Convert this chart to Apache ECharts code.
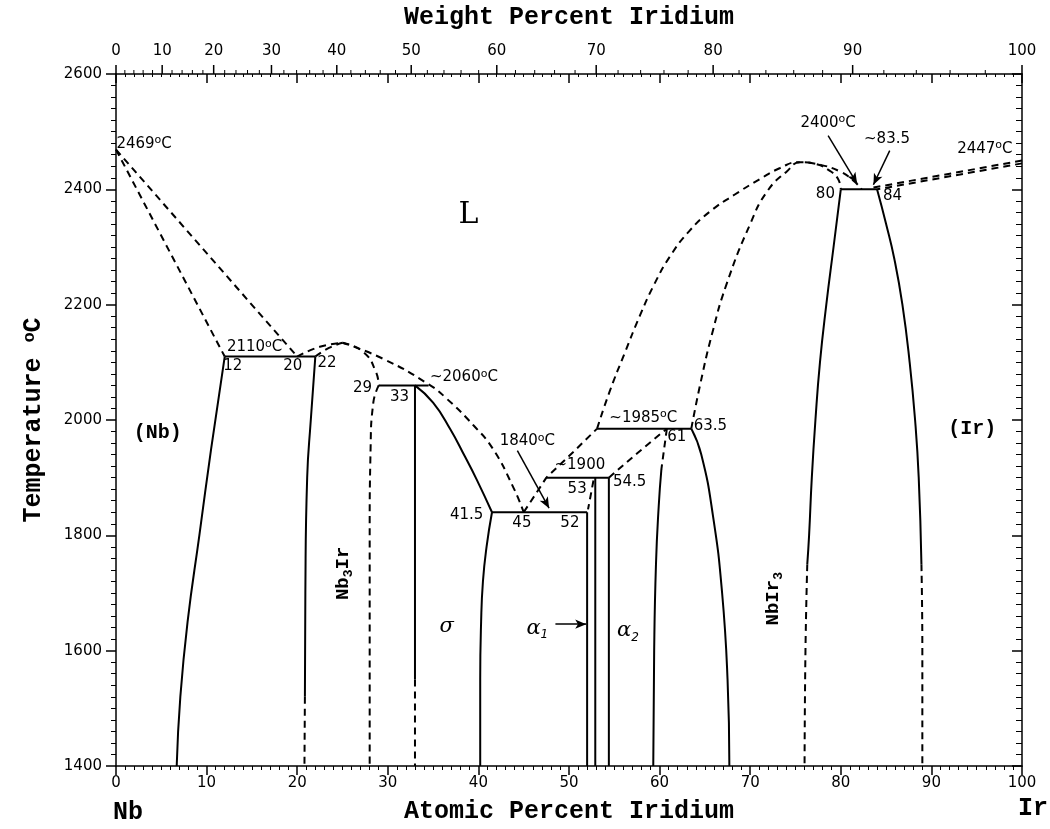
<!DOCTYPE html>
<html>
<head>
<meta charset="utf-8">
<script src="https://cdn.jsdelivr.net/npm/echarts@6/dist/echarts.min.js"></script>
<style>html,body{margin:0;background:#fff}#chart{width:1050px;height:829px}</style>
</head>
<body>
<div id="chart"></div>
<script>
// --- axes ---
const tempMin = 1400, tempMax = 2600
const wtMajor = [0, 10, 20, 30, 40, 50, 60, 70, 80, 90, 100]
const M_IR = 192.22, M_NB = 92.906

// --- phase boundaries: [at.% Ir, T degC] ---
const nbLiquidus = [[0, 2469], [20, 2110]]
const nbSolidus = [[0, 2469], [12, 2110]]
const nbSolvus = [[12, 2110], [10.5, 1950], [9.2, 1800], [7.9, 1650], [7.1, 1520], [6.7, 1400]]
const eut2110 = [[12, 2110], [22, 2110]]
const nb3IrLiqLeft = [[20, 2110], [22.5, 2127], [25, 2134]]
const nb3IrSolLeft = [[22, 2110], [23.5, 2125], [25, 2134]]
const nb3IrLeftSolid = [[22, 2110], [21.5, 2000], [21.1, 1900], [20.9, 1700], [20.85, 1520]]
const nb3IrLeftDash = [[20.85, 1520], [20.8, 1400]]
const midLiquidus = [[25, 2134], [29.5, 2106], [34.5, 2062], [36.5, 2037], [39.5, 1990], [41.6, 1950], [43.8, 1885], [45, 1840]]
const nb3IrSolRight = [[25, 2134], [27.3, 2118], [28.7, 2083], [29, 2060]]
const nb3IrRight = [[29, 2060], [28.4, 2030], [28.1, 1950], [28, 1800], [28, 1400]]
const peri2060 = [[29, 2060], [34.5, 2060]]
const sigmaLeftSolid = [[33, 2060], [33, 1550]]
const sigmaLeftDash = [[33, 1550], [33, 1400]]
const sigmaTop = [[33, 2060], [35, 2030], [36.9, 1984], [38.5, 1937], [39.8, 1897], [41.5, 1840]]
const sigmaRight = [[41.5, 1840], [40.9, 1780], [40.5, 1720], [40.3, 1650], [40.2, 1550], [40.2, 1400]]
const eut1840 = [[41.5, 1840], [52, 1840]]
const liqLow = [[45, 1840], [47.5, 1900], [50.5, 1945], [53.1, 1985]]
const alpha1Left = [[52, 1840], [52, 1400]]
const alpha1Top = [[52.7, 1895], [52.1, 1845]]
const line53 = [[52.9, 1900], [52.9, 1400]]
const line545 = [[54.4, 1900], [54.4, 1400]]
const peri1900 = [[47.5, 1900], [54.4, 1900]]
const peri1985 = [[53.1, 1985], [63.5, 1985]]
const dash1900to1985 = [[54.4, 1900], [57.5, 1942], [60.8, 1985]]
const phase61Dash = [[60.8, 1985], [60.2, 1915]]
const phase61Solid = [[60.2, 1915], [59.9, 1850], [59.6, 1750], [59.4, 1600], [59.3, 1400]]
const phase635 = [[63.5, 1985], [64.6, 1940], [65.9, 1833], [66.9, 1700], [67.5, 1550], [67.7, 1400]]
const bigLiquidus = [[53.1, 1985], [54.5, 2050], [56.2, 2118], [57.8, 2180], [59.4, 2235], [61.2, 2285], [63.3, 2328],
  [65.6, 2362], [68.3, 2391], [71.1, 2418], [73.3, 2437], [75.3, 2447], [77.6, 2443], [79.9, 2431], [81.4, 2415], [82.3, 2400]]
const nbIr3SolLeft = [[63.5, 1985], [64.5, 2063], [65.8, 2150], [67.4, 2236], [70, 2340], [71.9, 2397], [74.1, 2432],
  [75.5, 2447], [77.2, 2444], [78.8, 2432], [79.7, 2418], [80, 2400]]
const eut2400 = [[80, 2400], [84, 2400]]
const nbIr3LeftSolid = [[80, 2400], [79.2, 2300], [78.4, 2200], [77.7, 2100], [77.2, 2000], [76.8, 1900], [76.5, 1800], [76.3, 1750]]
const nbIr3LeftDash = [[76.3, 1750], [76.1, 1600], [76, 1400]]
const nbIr3RightSolid = [[84, 2400], [85, 2340], [85.9, 2280], [86.8, 2200], [87.6, 2100], [88.2, 2000], [88.6, 1900], [88.9, 1750]]
const nbIr3RightDash = [[88.9, 1750], [89, 1600], [89, 1400]]
const irLiquidus = [[100, 2450], [83.6, 2403]]
const irSolidus = [[100, 2445], [84, 2400]]

// --- annotations ---
const numberLabels = [
  [12.9, 2093, '12'], [19.5, 2093, '20'], [23.3, 2098, '22'], [27.2, 2056, '29'], [31.3, 2039, '33'],
  [38.7, 1835, '41.5'], [44.8, 1821, '45'], [50.1, 1821, '52'], [51.2, 1921, '~1900'], [50.9, 1881, '53'],
  [56.7, 1892, '54.5'], [61.9, 1970, '61'], [65.6, 1989, '63.5'], [85.1, 2487, '~83.5'], [78.3, 2392, '80'], [85.7, 2389, '84']
]
const tempLabels = [
  [3.1, 2479, '2469°C'], [15.3, 2126, '2110°C'], [38.4, 2074, '~2060°C'], [45.4, 1963, '1840°C'],
  [58.2, 2004, '~1985°C'], [78.6, 2515, '2400°C'], [95.9, 2470, '2447°C']
]
const regionLabels = [[4.6, 1977, '(Nb)'], [94.5, 1985, '(Ir)']]
const liquidLabel = [[38.9, 2356, 'L']]
const compoundLabels = [[25.1, 1734, 'Nb{s|3}Ir'], [72.5, 1690, 'NbIr{s|3}']]
const greekLabels = [[36.5, 1641, 'σ'], [46.5, 1639, 'α{s|1}'], [56.5, 1635, 'α{s|2}']]
const arrows = [
  [[44.3, 1947], [47.8, 1847]],
  [[78.6, 2493], [81.8, 2410]],
  [[85.4, 2467], [83.6, 2408]],
  [[48.5, 1646], [51.9, 1646]]
]

function wtToAt(w) {
  const a = w / M_IR, b = (100 - w) / M_NB
  return 100 * a / (a + b)
}

const SANS = 'DejaVu Sans'
const MONO = 'Liberation Mono'

function boundary(data, dashed, smooth) {
  return {
    type: 'line', data, symbol: 'none', showSymbol: false, smooth: smooth ? 0.5 : false,
    silent: true, animation: false, z: 3,
    lineStyle: { color: '#000', width: 2, type: dashed ? [7, 5] : 'solid' }
  }
}

function textSeries(items, label) {
  return {
    type: 'scatter', symbolSize: 0, silent: true, animation: false, z: 5,
    itemStyle: { opacity: 1 },
    data: items.map(d => ({ value: [d[0], d[1]], label: { formatter: d[2] } })),
    label: Object.assign({ show: true, position: 'inside', color: '#000', opacity: 1 }, label)
  }
}

const supRich = {
  o: { fontSize: 11, fontFamily: SANS, lineHeight: 10, verticalAlign: 'top', color: '#000' }
}

const wtTicks = []
for (let w = 0; w <= 100; w += 2) wtTicks.push([w, tempMax])

const chart = echarts.init(document.getElementById('chart'), null, { renderer: 'canvas' })

const axisLineStyle = { color: '#000', width: 1.5 }
const titleStyle = { fontFamily: MONO, fontWeight: 'bold', fontSize: 25, color: '#000' }

chart.setOption({
  backgroundColor: '#fff',
  animation: false,
  grid: { left: 116, right: 28, top: 73, bottom: 63, containLabel: false },
  xAxis: [
    {
      type: 'value', min: 0, max: 100, interval: 10, position: 'bottom',
      axisLine: { onZero: false, lineStyle: axisLineStyle },
      axisTick: { length: 9, lineStyle: axisLineStyle },
      minorTick: { show: true, splitNumber: 10, length: 4, lineStyle: { color: '#000', width: 1 } },
      splitLine: { show: false },
      axisLabel: { fontFamily: SANS, fontSize: 15, color: '#000', margin: 10 },
      name: 'Atomic Percent Iridium', nameLocation: 'middle', nameGap: 33, nameTextStyle: titleStyle
    },
    {
      type: 'value', min: 0, max: 100, interval: 10, position: 'top',
      axisLine: { onZero: false, lineStyle: axisLineStyle },
      axisTick: { inside: true, length: 9, lineStyle: axisLineStyle },
      minorTick: { show: true, splitNumber: 10, length: 3, lineStyle: { color: '#000', width: 1 } },
      splitLine: { show: false },
      axisLabel: { show: false },
      name: 'Weight Percent Iridium', nameLocation: 'middle', nameGap: 44, nameTextStyle: titleStyle
    }
  ],
  yAxis: [
    {
      type: 'value', min: tempMin, max: tempMax, interval: 200, position: 'left',
      axisLine: { onZero: false, lineStyle: axisLineStyle },
      axisTick: { length: 10, lineStyle: axisLineStyle },
      minorTick: { show: true, splitNumber: 10, length: 5, lineStyle: { color: '#000', width: 1 } },
      splitLine: { show: false },
      axisLabel: { fontFamily: SANS, fontSize: 15, color: '#000', margin: 14, formatter: v => String(v) },
      name: 'Temperature {o|o}C', nameLocation: 'middle', nameRotate: 90, nameGap: 70,
      nameTextStyle: Object.assign({}, titleStyle, { rich: { o: { fontFamily: MONO, fontWeight: 'bold', fontSize: 17, lineHeight: 12, verticalAlign: 'top', color: '#000' } } })
    },
    {
      type: 'value', min: tempMin, max: tempMax, interval: 200, position: 'right',
      axisLine: { onZero: false, lineStyle: axisLineStyle },
      axisTick: { inside: true, length: 10, lineStyle: axisLineStyle },
      minorTick: { show: true, splitNumber: 10, length: 6, lineStyle: { color: '#000', width: 1 } },
      splitLine: { show: false },
      axisLabel: { show: false }
    }
  ],
  graphic: [
    { type: 'text', left: 113, top: 800, style: { text: 'Nb', font: 'bold 25px "Liberation Mono"', fill: '#000' } },
    { type: 'text', left: 1018, top: 796, style: { text: 'Ir', font: 'bold 25px "Liberation Mono"', fill: '#000' } }
  ],
  series: [
    boundary(nbLiquidus, true), boundary(nbSolidus, true), boundary(nbSolvus, false, true),
    boundary(eut2110, false), boundary(nb3IrLiqLeft, true, true), boundary(nb3IrSolLeft, true, true),
    boundary(nb3IrLeftSolid, false, true), boundary(nb3IrLeftDash, true),
    boundary(midLiquidus, true, true), boundary(nb3IrSolRight, true, true), boundary(nb3IrRight, true, true),
    boundary(peri2060, false), boundary(sigmaLeftSolid, false), boundary(sigmaLeftDash, true),
    boundary(sigmaTop, false, true), boundary(sigmaRight, false, true), boundary(eut1840, false),
    boundary(liqLow, true), boundary(alpha1Left, false), boundary(alpha1Top, true), boundary(line53, false),
    boundary(line545, false), boundary(peri1900, false), boundary(peri1985, false),
    boundary(dash1900to1985, true), boundary(phase61Dash, true), boundary(phase61Solid, false, true),
    boundary(phase635, false, true), boundary(bigLiquidus, true, true), boundary(nbIr3SolLeft, true, true),
    boundary(eut2400, false), boundary(nbIr3LeftSolid, false, true), boundary(nbIr3LeftDash, true, true),
    boundary(nbIr3RightSolid, false, true), boundary(nbIr3RightDash, true, true),
    boundary(irLiquidus, true), boundary(irSolidus, true),
    {
      type: 'line', data: [], silent: true, animation: false,
      markLine: {
        silent: true, animation: false, symbol: ['none', 'arrow'], symbolSize: [7, 11],
        label: { show: false },
        lineStyle: { color: '#000', width: 1.5, type: 'solid' },
        data: arrows.map(a => [{ coord: a[0] }, { coord: a[1] }])
      }
    },
    textSeries(numberLabels, { fontFamily: SANS, fontSize: 15 }),
    textSeries(tempLabels.map(d => [d[0], d[1], d[2].replace('°C', '{o|o}C')]),
      { fontFamily: SANS, fontSize: 15, lineHeight: 18, rich: supRich }),
    textSeries(regionLabels, { fontFamily: MONO, fontWeight: 'bold', fontSize: 20 }),
    textSeries(liquidLabel, { fontFamily: 'DejaVu Serif', fontSize: 30 }),
    textSeries(compoundLabels, {
      rotate: 90, fontFamily: MONO, fontWeight: 'bold', fontSize: 19, lineHeight: 24,
      rich: { s: { fontFamily: MONO, fontWeight: 'bold', fontSize: 13, lineHeight: 12, verticalAlign: 'bottom', color: '#000' } }
    }),
    textSeries(greekLabels, {
      fontFamily: 'DejaVu Serif', fontStyle: 'italic', fontSize: 21, lineHeight: 26,
      rich: { s: { fontFamily: SANS, fontSize: 12, lineHeight: 12, verticalAlign: 'bottom', color: '#000' } }
    }),
    {
      // weight-percent scale on the top edge
      type: 'custom', clip: false, silent: true, animation: false, z: 6,
      data: wtTicks, encode: { x: 0, y: 1 },
      renderItem: (params, api) => {
        const w = api.value(0)
        const p = api.coord([wtToAt(w), api.value(1)])
        const major = w % 10 === 0
        const children = [{
          type: 'line',
          shape: { x1: p[0], y1: p[1], x2: p[0], y2: p[1] - (major ? 9 : 4) },
          style: { stroke: '#000', lineWidth: major ? 1.5 : 1 }
        }]
        if (major && wtMajor.indexOf(w) >= 0) {
          children.push({
            type: 'text',
            style: { text: String(w), x: p[0], y: p[1] - 23, align: 'center', verticalAlign: 'middle', fontFamily: SANS, fontSize: 15, fill: '#000' }
          })
        }
        return { type: 'group', children }
      }
    }
  ]
})
</script>
</body>
</html>
